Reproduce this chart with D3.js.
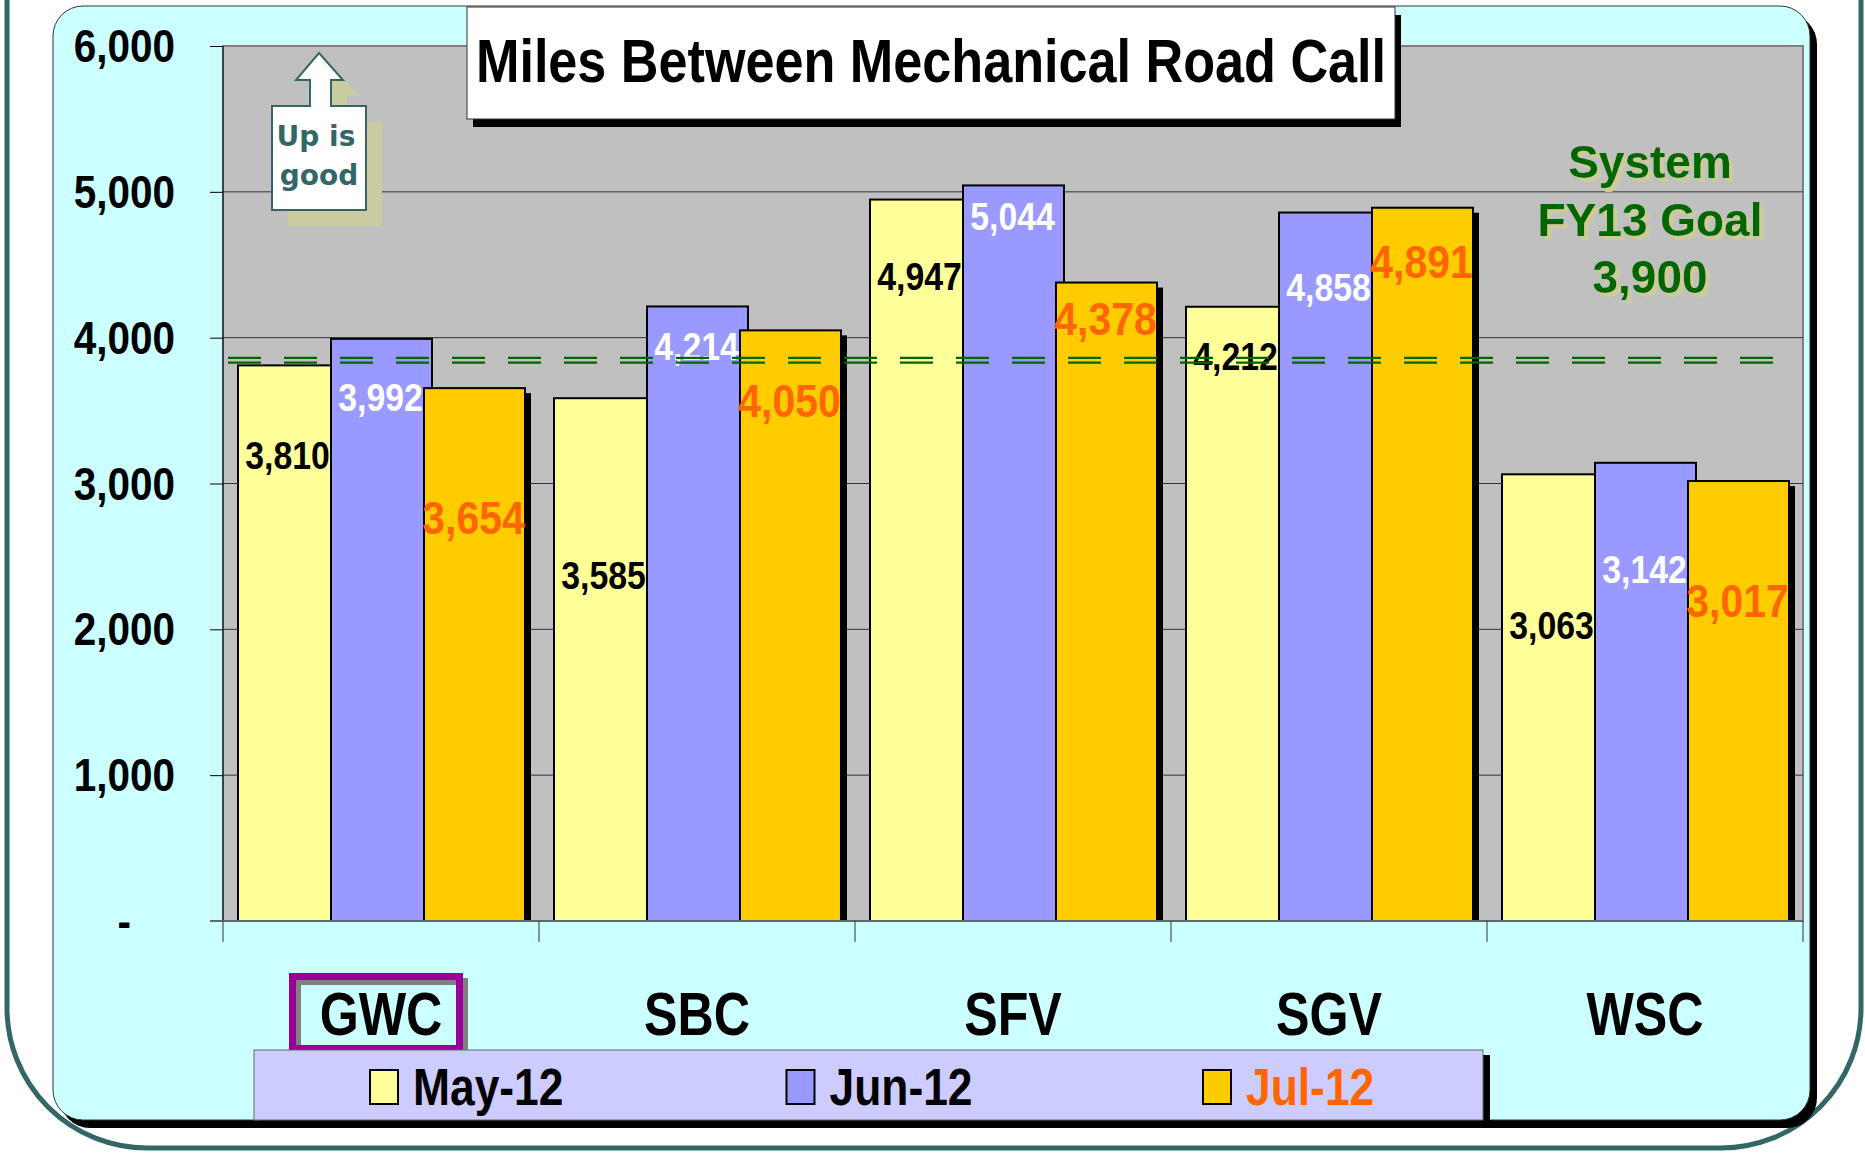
<!DOCTYPE html>
<html>
<head>
<meta charset="utf-8">
<script src="https://cdn.jsdelivr.net/npm/d3@7"></script>
<style>
  body { margin: 0; background: #fff; }
  svg text { font-family: "Liberation Sans", Arial, sans-serif; font-weight: bold; }
</style>
</head>
<body>
<script>
const categories = ["GWC", "SBC", "SFV", "SGV", "WSC"];
const months = ["May-12", "Jun-12", "Jul-12"];
const may12 = [3810, 3585, 4947, 4212, 3063];
const jun12 = [3992, 4214, 5044, 4858, 3142];
const jul12 = [3654, 4050, 4378, 4891, 3017];
// value labels were placed by hand in the source, read as miles (text baseline)
const mayLabelAt = [3100, 2280, 4330, 3780, 1935];
const junLabelAt = [3495, 3850, 4735, 4250, 2320];
const julLabelAt = [2655, 3455, 4020, 4410, 2085];
const yTicks = [0, 1000, 2000, 3000, 4000, 5000, 6000];
const goalText = ["System", "FY13 Goal", "3,900"];
const goalLineAt = 3845;   // where the dashed line is actually drawn
const highlighted = "GWC";

let width = 1865,
    height = 1153;

let plot = {left: 223, right: 1803, top: 46, bottom: 921};

let x = d3.scaleBand()
    .domain(categories)
    .range([plot.left, plot.right]);

let y = d3.scaleLinear()
    .domain([0, 6000])
    .range([plot.bottom, plot.top]);

const barW = 101, barStep = 93, groupPad = 15;
const fmt = d3.format(",");

let series = [
    {name: months[0], values: may12, labelAt: mayLabelAt, fill: "#FFFF99", text: "#000", size: 38},
    {name: months[1], values: jun12, labelAt: junLabelAt, fill: "#9999FF", text: "#fff", size: 38},
    {name: months[2], values: jul12, labelAt: julLabelAt, fill: "#FFCC00", text: "#FF6600", size: 46}
];

// squeeze text horizontally to mimic the narrow font of the original
function squeeze(sel, k) {
    sel.each(function () {
        let len = this.getComputedTextLength();
        d3.select(this)
            .attr("textLength", len * k)
            .attr("lengthAdjust", "spacingAndGlyphs");
    });
}

let svg = d3.select("body").append("svg")
    .attr("width", width)
    .attr("height", height);

// solid khaki drop shadow for the goal text
let shadow = svg.append("defs").append("filter")
    .attr("id", "khaki")
    .attr("x", "-10%").attr("y", "-20%")
    .attr("width", "130%").attr("height", "150%");
shadow.append("feOffset").attr("in", "SourceAlpha").attr("dx", 4).attr("dy", 4).attr("result", "off");
shadow.append("feFlood").attr("flood-color", "#CCCC99").attr("result", "col");
shadow.append("feComposite").attr("in", "col").attr("in2", "off").attr("operator", "in").attr("result", "sh");
let merge = shadow.append("feMerge");
merge.append("feMergeNode").attr("in", "sh");
merge.append("feMergeNode").attr("in", "SourceGraphic");

// outer frame
svg.append("rect")
    .attr("x", 7).attr("y", -300)
    .attr("width", 1854).attr("height", 1448)
    .attr("rx", 140)
    .attr("fill", "#fff")
    .attr("stroke", "#336666")
    .attr("stroke-width", 5);

// panel with shadow
svg.append("rect")
    .attr("x", 60).attr("y", 14)
    .attr("width", 1757).attr("height", 1114)
    .attr("rx", 30)
    .attr("fill", "#000");
svg.append("rect")
    .attr("x", 53).attr("y", 6)
    .attr("width", 1757).attr("height", 1114)
    .attr("rx", 30)
    .attr("fill", "#CCFFFF")
    .attr("stroke", "#333")
    .attr("stroke-width", 1);

// plot area
svg.append("rect")
    .attr("x", plot.left).attr("y", plot.top)
    .attr("width", plot.right - plot.left)
    .attr("height", plot.bottom - plot.top)
    .attr("fill", "#C0C0C0")
    .attr("stroke", "#808080")
    .attr("stroke-width", 2);

svg.append("g").selectAll("line")
    .data(yTicks.filter(d => d > 0 && d < 6000))
    .enter().append("line")
    .attr("x1", plot.left).attr("x2", plot.right)
    .attr("y1", d => y(d)).attr("y2", d => y(d))
    .attr("stroke", "#333")
    .attr("stroke-width", 1);

// y axis
let yAxis = d3.axisLeft(y)
    .tickValues(yTicks)
    .tickSize(13)
    .tickPadding(35)
    .tickFormat(d => d === 0 ? "-" : fmt(d));

let gy = svg.append("g")
    .attr("transform", "translate(" + plot.left + ",0)")
    .call(yAxis);
gy.select(".domain").remove();
gy.selectAll(".tick line").attr("stroke", "#000");
gy.selectAll(".tick text")
    .attr("font-size", 46)
    .attr("font-family", "Liberation Sans, Arial, sans-serif")
    .attr("font-weight", "bold")
    .attr("fill", "#000")
    .attr("dy", "0.34em")
    .attr("x", d => d === 0 ? -92 : -48)
    .call(squeeze, 0.88);

svg.append("line")
    .attr("x1", plot.left).attr("x2", plot.left)
    .attr("y1", plot.top).attr("y2", plot.bottom)
    .attr("stroke", "#000");

// "Up is good" arrow
let arrowPts = [[319, 53], [343, 80], [331, 80], [331, 106], [366, 106], [366, 210],
    [272, 210], [272, 106], [310, 106], [310, 80], [296, 80]];
svg.append("polygon")
    .attr("points", arrowPts.map(p => (p[0] + 16) + "," + (p[1] + 16)).join(" "))
    .attr("fill", "#CBCBA2");
svg.append("polygon")
    .attr("points", arrowPts.map(p => p.join(",")).join(" "))
    .attr("fill", "#fff")
    .attr("stroke", "#336666")
    .attr("stroke-width", 2);
svg.append("text")
    .attr("x", 316).attr("y", 146)
    .attr("text-anchor", "middle")
    .attr("font-size", 28)
    .style("font-family", "'DejaVu Sans', sans-serif")
    .attr("fill", "#336666")
    .text("Up is");
svg.append("text")
    .attr("x", 319).attr("y", 185)
    .attr("text-anchor", "middle")
    .attr("font-size", 28)
    .style("font-family", "'DejaVu Sans', sans-serif")
    .attr("fill", "#336666")
    .text("good");

// title box
svg.append("rect")
    .attr("x", 473).attr("y", 15)
    .attr("width", 928).attr("height", 112)
    .attr("fill", "#000");
svg.append("rect")
    .attr("x", 467).attr("y", 7)
    .attr("width", 928).attr("height", 112)
    .attr("fill", "#fff")
    .attr("stroke", "#333")
    .attr("stroke-width", 1);
svg.append("text")
    .attr("x", 931).attr("y", 82)
    .attr("text-anchor", "middle")
    .attr("font-size", 61)
    .attr("fill", "#000")
    .text("Miles Between Mechanical Road Call")
    .call(squeeze, 0.855);

// goal annotation
svg.append("g")
    .attr("filter", "url(#khaki)")
    .selectAll("text")
    .data(goalText)
    .enter().append("text")
    .attr("x", 1650)
    .attr("y", (d, i) => 178 + i * 57.5)
    .attr("text-anchor", "middle")
    .attr("font-size", 46)
    .attr("fill", "#006600")
    .text(d => d);

// bars
function barX(cat, s) {
    return x(cat) + groupPad + s * barStep;
}

series.forEach((s, si) => {
    let g = svg.append("g");
    if (si === series.length - 1) {
        g.selectAll(".shadow")
            .data(s.values)
            .enter().append("rect")
            .attr("x", (d, i) => barX(categories[i], si) + 6)
            .attr("y", d => y(d) + 5)
            .attr("width", barW)
            .attr("height", d => y(0) - y(d) - 5)
            .attr("fill", "#000");
    }
    g.selectAll(".bar")
        .data(s.values)
        .enter().append("rect")
        .attr("x", (d, i) => barX(categories[i], si))
        .attr("y", d => y(d))
        .attr("width", barW)
        .attr("height", d => y(0) - y(d))
        .attr("fill", s.fill)
        .attr("stroke", "#000")
        .attr("stroke-width", 2);
});

series.forEach((s, si) => {
    svg.append("g").selectAll("text")
        .data(s.values)
        .enter().append("text")
        .attr("x", (d, i) => barX(categories[i], si) + barW / 2 - 1)
        .attr("y", (d, i) => y(s.labelAt[i]))
        .attr("text-anchor", "middle")
        .attr("font-size", s.size)
        .attr("fill", s.text)
        .text(d => fmt(d))
        .call(squeeze, 0.89);
});

// goal line: double dashed
[-2.4, 2.4].forEach(off => {
    svg.append("line")
        .attr("x1", 228).attr("x2", 1774)
        .attr("y1", y(goalLineAt) + off).attr("y2", y(goalLineAt) + off)
        .attr("stroke", "#006600")
        .attr("stroke-width", 2.2)
        .attr("stroke-dasharray", "33,23");
});

// x axis
svg.append("line")
    .attr("x1", 210).attr("x2", plot.right)
    .attr("y1", plot.bottom).attr("y2", plot.bottom)
    .attr("stroke", "#5a6a6a")
    .attr("stroke-width", 2);
svg.append("g").selectAll("line")
    .data(categories.map(c => x(c)).concat([plot.right]))
    .enter().append("line")
    .attr("x1", d => d).attr("x2", d => d)
    .attr("y1", plot.bottom).attr("y2", plot.bottom + 21)
    .attr("stroke", "#333")
    .attr("stroke-width", 1);

// highlight box around one category
let hx = x(highlighted) + 69.5;
svg.append("rect")
    .attr("x", hx + 5).attr("y", 981.5)
    .attr("width", 167).attr("height", 72)
    .attr("fill", "none")
    .attr("stroke", "#808080")
    .attr("stroke-width", 7);
svg.append("rect")
    .attr("x", hx).attr("y", 976.5)
    .attr("width", 167).attr("height", 72)
    .attr("fill", "none")
    .attr("stroke", "#990099")
    .attr("stroke-width", 7);

svg.append("g").selectAll("text")
    .data(categories)
    .enter().append("text")
    .attr("x", d => x(d) + x.bandwidth() / 2)
    .attr("y", 1035)
    .attr("text-anchor", "middle")
    .attr("font-size", 62)
    .attr("fill", "#000")
    .text(d => d)
    .call(squeeze, 0.81);

// legend
svg.append("rect")
    .attr("x", 261).attr("y", 1055)
    .attr("width", 1229).attr("height", 70)
    .attr("fill", "#000");
svg.append("rect")
    .attr("x", 254).attr("y", 1050)
    .attr("width", 1229).attr("height", 70)
    .attr("fill", "#CCCCFF")
    .attr("stroke", "#666")
    .attr("stroke-width", 1);

let legend = svg.append("g").selectAll("g")
    .data(series)
    .enter().append("g")
    .attr("transform", (d, i) => "translate(" + (370 + i * 416.5) + ",1070)");
legend.append("rect")
    .attr("width", 28).attr("height", 34)
    .attr("fill", d => d.fill)
    .attr("stroke", "#000")
    .attr("stroke-width", 2);
legend.append("text")
    .attr("x", 43).attr("y", 35)
    .attr("font-size", 51)
    .attr("fill", (d, i) => i === 2 ? "#FF6600" : "#000")
    .text(d => d.name)
    .call(squeeze, 0.87);
</script>
</body>
</html>
